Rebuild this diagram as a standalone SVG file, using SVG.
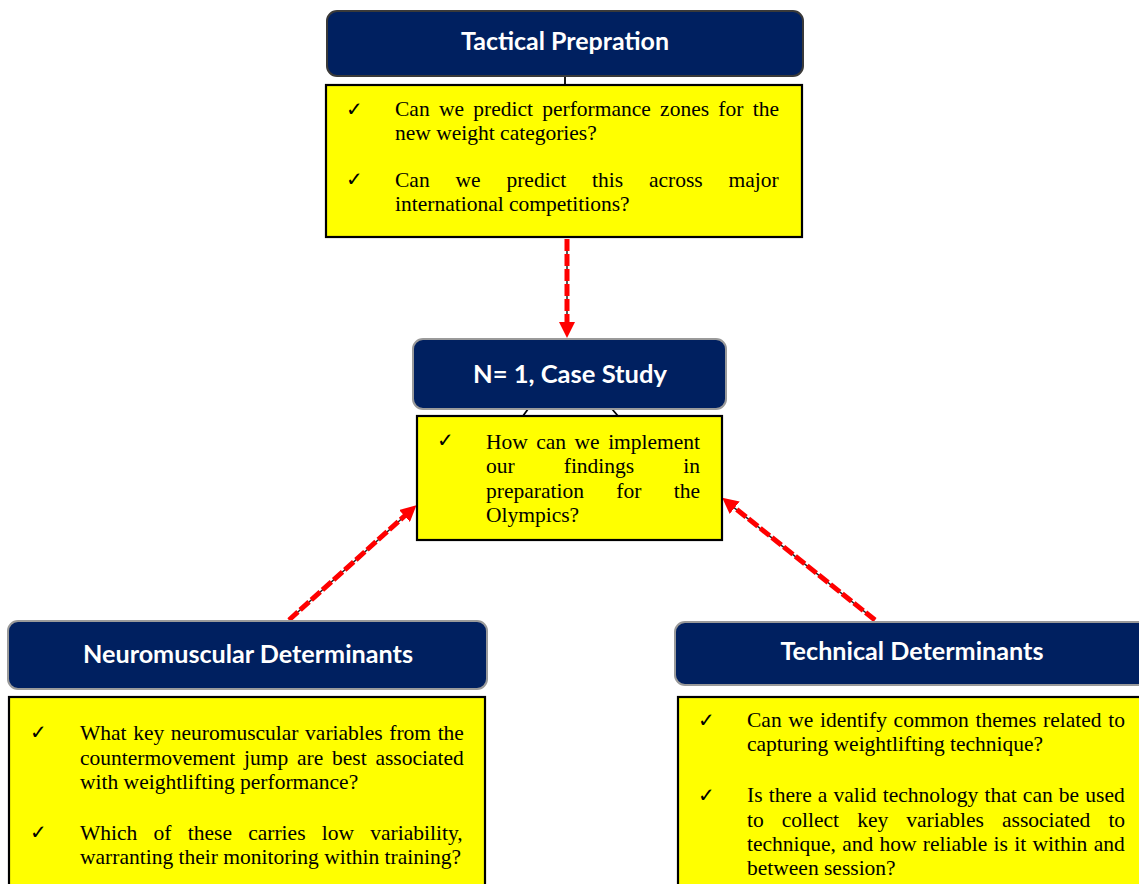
<svg xmlns="http://www.w3.org/2000/svg" width="1139" height="884" viewBox="0 0 1139 884">
<style>
.hdr{fill:#002060;stroke:#9a9a9a;stroke-width:2}
.box{fill:#FFFF00;stroke:#000;stroke-width:2.2}
.ht{font-family:Lato,"Open Sans",sans-serif;font-weight:bold;font-size:24px;fill:#fff;text-anchor:middle}
.bt{font-family:"Liberation Serif","Times New Roman",serif;font-size:21.5px;fill:#000}
.ck{font-family:"DejaVu Sans",sans-serif;font-weight:bold;font-size:20px;fill:#000}
.under{stroke:#222;stroke-width:1.5;fill:none}
.dash{stroke:#ff0000;stroke-width:5;fill:none;stroke-dasharray:12 3}
.thin{stroke:#000;stroke-width:1.8;fill:none}
</style>
<defs>
<marker id="ah" markerUnits="userSpaceOnUse" viewBox="0 0 16 16" markerWidth="16" markerHeight="16" refX="6" refY="8" orient="auto">
<path d="M0,0 L16,8 L0,16 z" fill="#ff0000"/>
</marker>
</defs>

<g id="connectors">
<line class="thin" x1="565" y1="76" x2="565" y2="85"/>
<line class="thin" x1="528" y1="409" x2="523" y2="416"/>
<line class="thin" x1="612" y1="409" x2="618" y2="416"/>
<path class="under" d="M567,239 L567,326"/>
<path class="dash" d="M567,239 L567,328" marker-end="url(#ah)"/>
<path class="under" d="M289,620 L407,514"/>
<path class="dash" d="M289,620 L409,512" marker-end="url(#ah)"/>
<path class="under" d="M875,620 L732,506"/>
<path class="dash" d="M875,620 L730,504" marker-end="url(#ah)"/>
</g>

<g id="tactical">
<rect class="hdr" x="327" y="11" width="476" height="65" rx="10" style="stroke:#3a3a3a"/>
<text class="ht" x="565" y="50" textLength="208" lengthAdjust="spacingAndGlyphs">Tactical Prepration</text>
<rect class="box" x="326" y="85" width="476" height="152"/>
<text class="ck" x="346" y="116">✓</text>
<text class="bt" x="395" y="116" style="word-spacing:3.9px">Can we predict performance zones for the</text>
<text class="bt" x="395" y="140">new weight categories?</text>
<text class="ck" x="346" y="186">✓</text>
<text class="bt" x="395" y="187" style="word-spacing:20.5px">Can we predict this across major</text>
<text class="bt" x="395" y="211">international competitions?</text>
</g>

<g id="case-study">
<rect class="hdr" x="413" y="339" width="313" height="70" rx="10"/>
<text class="ht" x="570" y="383" textLength="194" lengthAdjust="spacingAndGlyphs">N= 1, Case Study</text>
<rect class="box" x="417" y="416" width="305" height="124"/>
<text class="ck" x="437" y="447">✓</text>
<text class="bt" x="486" y="449" style="word-spacing:3.1px">How can we implement</text>
<text class="bt" x="486" y="473" style="word-spacing:43.7px">our findings in</text>
<text class="bt" x="486" y="498" style="word-spacing:27px">preparation for the</text>
<text class="bt" x="486" y="522">Olympics?</text>
</g>

<g id="neuromuscular">
<rect class="hdr" x="8" y="621" width="479" height="68" rx="10"/>
<text class="ht" x="248" y="663" textLength="330" lengthAdjust="spacingAndGlyphs">Neuromuscular Determinants</text>
<rect class="box" x="9" y="697" width="476" height="200"/>
<text class="ck" x="30" y="739">✓</text>
<text class="bt" x="80" y="740" style="word-spacing:1.2px">What key neuromuscular variables from the</text>
<text class="bt" x="80" y="765" style="word-spacing:3.4px">countermovement jump are best associated</text>
<text class="bt" x="80" y="789">with weightlifting performance?</text>
<text class="ck" x="30" y="839">✓</text>
<text class="bt" x="80" y="840" style="word-spacing:10.9px">Which of these carries low variability,</text>
<text class="bt" x="80" y="864">warranting their monitoring within training?</text>
</g>

<g id="technical">
<rect class="hdr" x="675" y="622" width="478" height="63" rx="10"/>
<text class="ht" x="912" y="660" textLength="263" lengthAdjust="spacingAndGlyphs">Technical Determinants</text>
<rect class="box" x="678" y="697" width="475" height="200"/>
<text class="ck" x="698" y="727">✓</text>
<text class="bt" x="747" y="727" style="word-spacing:1.3px">Can we identify common themes related to</text>
<text class="bt" x="747" y="751">capturing weightlifting technique?</text>
<text class="ck" x="698" y="802">✓</text>
<text class="bt" x="747" y="802" style="word-spacing:0.8px">Is there a valid technology that can be used</text>
<text class="bt" x="747" y="827" style="word-spacing:12.7px">to collect key variables associated to</text>
<text class="bt" x="747" y="851" style="word-spacing:0.9px">technique, and how reliable is it within and</text>
<text class="bt" x="747" y="875">between session?</text>
</g>
</svg>
